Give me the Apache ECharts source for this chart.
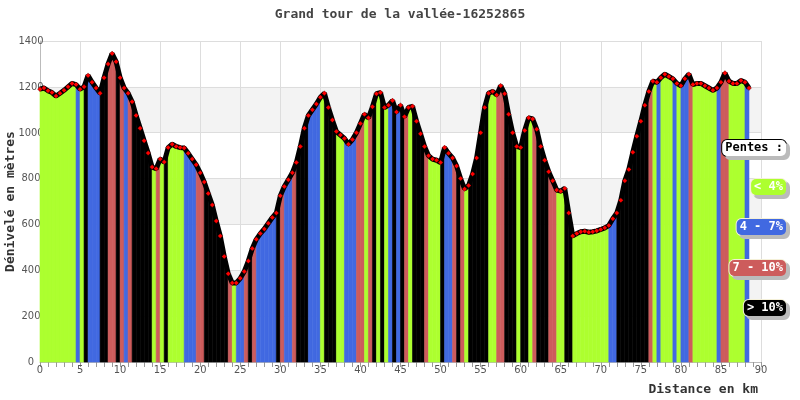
<!DOCTYPE html>
<html>
<head>
<meta charset="utf-8">
<script src="https://cdn.jsdelivr.net/npm/echarts@6/dist/echarts.min.js"></script>
<style>html,body{margin:0;padding:0;background:#fff;}#c{width:800px;height:400px;}</style>
</head>
<body>
<div id="c"></div>
<script>
const titleText = 'Grand tour de la vallée-16252865';
const xAxisName = 'Distance en km';
const yAxisName = 'Dénivelé en mètres';
const legendTitle = 'Pentes :';
const slopeLabels = ['< 4%', '4 - 7%', '7 - 10%', '> 10%'];
const slopeColors = ['#adff2f', '#4169e1', '#cd5c5c', '#000000'];
const slopeLimits = [4, 7, 10];
const distStepKm = 0.5;
const elevations = [
  1190, 1195, 1183, 1175, 1160, 1172, 1185, 1200, 1215, 1210,
  1190, 1200, 1250, 1220, 1195, 1172, 1240, 1300, 1345, 1310,
  1240, 1195, 1172, 1135, 1075, 1020, 965, 911, 850, 843,
  885, 872, 935, 950, 940, 935, 933, 910, 885, 860,
  825, 785, 735, 685, 615, 550, 460, 385, 345, 345,
  365, 395, 440, 495, 535, 560, 580, 605, 630, 650,
  725, 765, 795, 825, 870, 940, 1020, 1075, 1100, 1125,
  1155, 1172, 1110, 1055, 1005, 990, 975, 950, 970, 1000,
  1040, 1080, 1065, 1113, 1170, 1175, 1110, 1120, 1140, 1090,
  1120, 1070, 1110, 1115, 1050, 995, 940, 900, 885, 880,
  870, 935, 910, 890, 855, 800, 755, 770, 820, 890,
  1000, 1110, 1172, 1180, 1165, 1205, 1170, 1080, 1000, 940,
  935, 1010, 1065, 1060, 1015, 940, 880, 830, 790, 750,
  745, 757, 650, 550, 560, 568, 570, 566, 568, 572,
  578, 585, 595, 625, 650, 705, 790, 840, 915, 985,
  1050, 1120, 1180, 1225, 1220, 1240, 1255, 1245, 1235, 1215,
  1205, 1235, 1255, 1210, 1215, 1215, 1205, 1195, 1185, 1195,
  1220, 1260, 1225, 1215, 1215, 1228, 1220, 1195
];

const points = elevations.map((e, i) => [i * distStepKm, e]);
function slopeClass(a, b) {
  const s = Math.abs(b[1] - a[1]) / ((b[0] - a[0]) * 1000) * 100;
  if (s < slopeLimits[0]) return 0;
  if (s < slopeLimits[1]) return 1;
  if (s < slopeLimits[2]) return 2;
  return 3;
}
const segments = [];
for (let i = 0; i < points.length - 1; i++) {
  segments.push([points[i][0], points[i + 1][0], points[i][1], points[i + 1][1], slopeClass(points[i], points[i + 1])]);
}

const mono = "'DejaVu Sans Mono', monospace";
const cond = "'DejaVu Sans Condensed', 'DejaVu Sans', sans-serif";

const legendGraphics = [];
const legendY = [148, 187, 227, 268, 308];
const legendItems = [{ t: legendTitle, bg: '#ffffff', fg: '#000000', bc: '#000000' }].concat(
  slopeLabels.map((t, i) => ({ t: t, bg: slopeColors[i], fg: '#ffffff', bc: '#f4f0d8' }))
);
legendItems.forEach((it, i) => {
  legendGraphics.push({
    type: 'text',
    right: 13,
    top: legendY[i] - 9,
    z: 100,
    style: {
      text: it.t,
      fill: it.fg,
      font: "bold 12px " + mono,
      backgroundColor: it.bg,
      borderColor: it.bc,
      borderWidth: 1,
      borderRadius: 5,
      padding: [2, 3, 2, 3],
      shadowColor: '#bbbbbb',
      shadowOffsetX: 3,
      shadowOffsetY: 3,
      shadowBlur: 0
    }
  });
});

const chart = echarts.init(document.getElementById('c'), null, { renderer: 'canvas' });
chart.setOption({
  animation: false,
  backgroundColor: '#ffffff',
  title: {
    text: titleText,
    left: 'center',
    top: 3,
    textStyle: { fontFamily: mono, fontSize: 13, fontWeight: 'bold', color: '#444' }
  },
  grid: { left: 40, right: 39, top: 41, bottom: 38, containLabel: false, outerBoundsMode: 'none' },
  xAxis: {
    type: 'value',
    min: 0, max: 90, interval: 5,
    name: xAxisName,
    nameLocation: 'end',
    nameGap: -3,
    nameMoveOverlap: false,
    nameTextStyle: { fontFamily: mono, fontSize: 13, fontWeight: 'bold', color: '#333', align: 'right', verticalAlign: 'top', padding: [21, 0, 0, 0] },
    axisLine: { show: true, lineStyle: { color: '#bbb' } },
    axisTick: { show: true, length: 5, lineStyle: { color: '#999' } },
    minorTick: { show: true, splitNumber: 5, length: 5, lineStyle: { color: '#999' } },
    axisLabel: { fontFamily: cond, fontSize: 11, color: '#555', margin: 3, formatter: v => String(v) },
    splitLine: { show: true, lineStyle: { color: '#dddddd' } }
  },
  yAxis: {
    type: 'value',
    min: 0, max: 1400, interval: 200,
    name: yAxisName,
    nameLocation: 'middle',
    nameGap: 23,
    nameMoveOverlap: false,
    nameTextStyle: { fontFamily: mono, fontSize: 13, fontWeight: 'bold', color: '#333' },
    axisLine: { show: true, lineStyle: { color: '#bbb' } },
    axisTick: { show: false },
    axisLabel: { fontFamily: cond, fontSize: 11, color: '#555', align: 'center', margin: 9, formatter: v => String(v) },
    splitLine: { show: true, lineStyle: { color: '#dddddd' } },
    splitArea: { show: true, areaStyle: { color: ['#ffffff', '#f3f3f3'] } }
  },
  graphic: legendGraphics,
  series: [
    {
      type: 'custom',
      data: segments,
      encode: { x: [0, 1], y: [2, 3] },
      renderItem: function (params, api) {
        const x0 = api.value(0), x1 = api.value(1), y0 = api.value(2), y1 = api.value(3), c = api.value(4);
        const pts = [api.coord([x0, 0]), api.coord([x1, 0]), api.coord([x1, y1]), api.coord([x0, y0])];
        return {
          type: 'polygon',
          shape: { points: pts },
          style: { fill: slopeColors[c], stroke: slopeColors[c], lineWidth: 0.6 }
        };
      },
      z: 2
    },
    {
      type: 'line',
      data: points,
      showSymbol: true,
      showAllSymbol: true,
      symbol: 'diamond',
      symbolSize: 5,
      itemStyle: { color: '#ff0000', borderColor: '#000', borderWidth: 0.3 },
      lineStyle: { color: '#000000', width: 5 },
      z: 3
    }
  ]
});
</script>
</body>
</html>
